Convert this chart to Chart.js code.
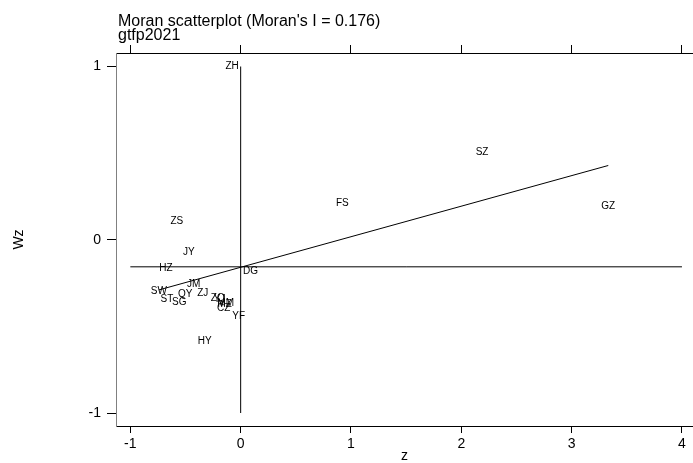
<!DOCTYPE html>
<html>
<head>
<meta charset="utf-8">
<script src="https://cdn.jsdelivr.net/npm/chart.js@4.4.1/dist/chart.umd.min.js"></script>
<style>
  body { margin: 0; background: #fff; }
  #wrap { width: 693px; height: 463px; }
</style>
</head>
<body>
<div id="wrap"><canvas id="moran" width="693" height="463"></canvas></div>
<script>
// city codes, standardized value z and its spatial lag Wz
const cities = ['ZH', 'SZ', 'FS', 'GZ', 'ZS', 'JY', 'HZ', 'DG', 'SW', 'JM', 'ST',
                'SG', 'QY', 'ZJ', 'ZQ', 'YJ', 'MM', 'MZ', 'CZ', 'YF', 'HY'];
const zVals = [-0.077, 2.188, 0.922, 3.332, -0.579, -0.470, -0.678, 0.090, -0.741, -0.425, -0.669,
               -0.556, -0.502, -0.344, -0.208, -0.190, -0.136, -0.145, -0.154, -0.018, -0.326];
const wzVals = [0.994, 0.498, 0.203, 0.186, 0.099, -0.079, -0.172, -0.189, -0.304, -0.264, -0.351,
                -0.368, -0.322, -0.316, -0.345, -0.351, -0.374, -0.380, -0.403, -0.449, -0.593];

const xTicks = [-1, 0, 1, 2, 3, 4];
const yTicks = [-1, 0, 1];
const titleText = "Moran scatterplot (Moran's I = 0.176)";
const subtitleText = 'gtfp2021';

const FONT = "'Liberation Sans', Arial, sans-serif";

// least squares fit of Wz on z
const n = zVals.length;
const meanZ = zVals.reduce((a, b) => a + b, 0) / n;
const meanWz = wzVals.reduce((a, b) => a + b, 0) / n;
let sxy = 0, sxx = 0;
zVals.forEach((z, i) => { sxy += (z - meanZ) * (wzVals[i] - meanWz); sxx += (z - meanZ) ** 2; });
const slope = sxy / sxx;
const icpt = meanWz - slope * meanZ;
const zMin = Math.min(...zVals), zMax = Math.max(...zVals);

const points = zVals.map((z, i) => ({ x: z, y: wzVals[i] }));

const labelPlugin = {
  id: 'labels',
  afterDatasetsDraw(chart) {
    const { ctx, scales: { x, y } } = chart;
    ctx.save();
    ctx.fillStyle = '#000';
    ctx.font = '10px ' + FONT;
    ctx.textAlign = 'center';
    ctx.textBaseline = 'middle';
    // marker labels sit a little above the point, like Stata's mlabel
    cities.forEach((c, i) => {
      ctx.fillText(c, x.getPixelForValue(zVals[i]), y.getPixelForValue(wzVals[i]) - 1.5);
    });
    ctx.font = '16px ' + FONT;
    ctx.textAlign = 'left';
    ctx.textBaseline = 'alphabetic';
    ctx.fillText(titleText, chart.chartArea.left + 2, 25.5);
    ctx.fillText(subtitleText, chart.chartArea.left + 2, 40);
    ctx.restore();
  }
};

const setX = s => { s.ticks = xTicks.map(v => ({ value: v })); };
const setY = s => { s.ticks = yTicks.map(v => ({ value: v })); };

new Chart(document.getElementById('moran'), {
  type: 'scatter',
  data: {
    datasets: [
      { data: points, pointRadius: 0, showLine: false },
      { data: [{ x: zMin, y: icpt + slope * zMin }, { x: zMax, y: icpt + slope * zMax }],
        showLine: true, borderColor: '#000', borderWidth: 1, pointRadius: 0 },
      { data: [{ x: xTicks[0], y: meanWz }, { x: xTicks[xTicks.length - 1], y: meanWz }],
        showLine: true, borderColor: '#000', borderWidth: 1, pointRadius: 0 },
      { data: [{ x: 0, y: yTicks[0] }, { x: 0, y: yTicks[yTicks.length - 1] }],
        showLine: true, borderColor: '#000', borderWidth: 1, pointRadius: 0 }
    ]
  },
  options: {
    responsive: false,
    animation: false,
    layout: { padding: 0 },
    plugins: { legend: { display: false }, tooltip: { enabled: false } },
    scales: {
      x: {
        type: 'linear', position: 'bottom', min: -1.13, max: 4.1,
        afterBuildTicks: setX,
        afterFit: s => { s.height = 37; },
        grid: { drawOnChartArea: false, tickLength: 7, color: '#000' },
        border: { color: '#000' },
        ticks: { color: '#000', padding: 3, maxRotation: 0, font: { family: FONT, size: 14 } },
        title: { display: true, text: 'z', color: '#000', padding: 0,
                 font: { family: FONT, size: 14, lineHeight: 1 } }
      },
      x2: {
        type: 'linear', position: 'top', min: -1.13, max: 4.1,
        afterBuildTicks: setX,
        afterFit: s => { s.height = 53; },
        grid: { drawOnChartArea: false, tickLength: 8, color: '#000' },
        border: { color: '#000' },
        ticks: { display: false }
      },
      y: {
        type: 'linear', position: 'left', min: -1.075, max: 1.078,
        afterBuildTicks: setY,
        afterFit: s => { s.width = 116; },
        grid: { drawOnChartArea: false, tickLength: 9, color: '#000' },
        border: { color: '#808080' },
        ticks: { color: '#000', padding: 6, font: { family: FONT, size: 14 } },
        title: { display: true, text: 'Wz', color: '#000', padding: { top: 12, bottom: 0 },
                 font: { family: FONT, size: 14, lineHeight: 1 } }
      }
    }
  },
  plugins: [labelPlugin]
});
</script>
</body>
</html>
